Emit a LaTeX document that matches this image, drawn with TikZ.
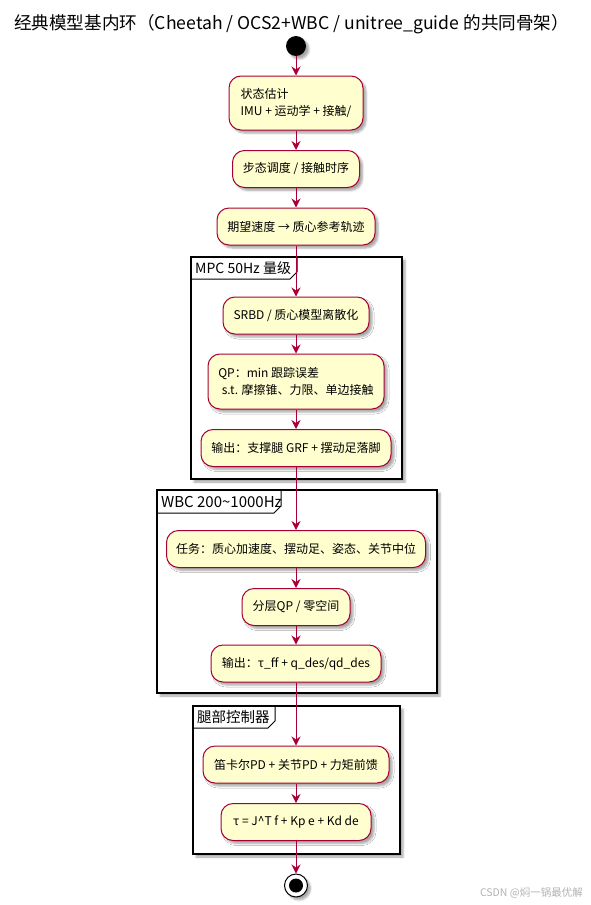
\documentclass[tikz,border=0pt]{standalone}
\usepackage{fontspec}
\setmainfont{Noto Sans CJK SC}
\usetikzlibrary{arrows.meta,shadows.blur}
\definecolor{umlred}{HTML}{A80036}
\definecolor{umlfill}{HTML}{FEFECE}
\begin{document}
\begin{tikzpicture}[x=1pt,y=-1pt,
  shad/.style={blur shadow={shadow xshift=3pt,shadow yshift=-3pt,shadow opacity=35,shadow blur steps=5,shadow blur radius=2pt}},
  act/.style={draw=umlred, fill=umlfill, rounded corners=12pt, line width=1pt,
    minimum height=37pt, inner xsep=8pt, inner ysep=4pt,
    font=\fontsize{12}{17}\selectfont, align=left, shad},
  flow/.style={draw=umlred, line width=1pt, -{Stealth[length=9pt,width=9pt,inset=3pt]}},
  grp/.style={draw=black, line width=1.5pt, fill=white, shad},
  tab/.style={draw=black, line width=1pt},
  grplabel/.style={anchor=west, inner sep=0pt},
]
\useasboundingbox (0,0) rectangle (591,905);

\node[font=\fontsize{17.6}{20}\selectfont] (title) at (291.5,24)
  {经典模型基内环（Cheetah / OCS2+WBC / unitree\_guide 的共同骨架）};

% group frames
\draw[grp] (191,257) rectangle (402,479);
\draw[tab] (191,279) -- (290,279) -- (297,272) -- (297,257);
\node[grplabel, font=\fontsize{14}{15}\selectfont] (mpcl) at (195,268) {MPC 50Hz 量级};

\draw[grp] (157,490) rectangle (437,693);
\draw[tab] (157,513) -- (274,513) -- (281,506) -- (281,490);
\node[grplabel, font=\fontsize{15}{16}\selectfont] (wbcl) at (161,501.5) {WBC 200\textasciitilde1000Hz};

\draw[grp] (193,706) rectangle (400,854);
\draw[tab] (193,728) -- (268,728) -- (275,721) -- (275,706);
\node[grplabel, font=\fontsize{14.5}{16}\selectfont] (legl) at (197,717) {腿部控制器};

% start
\node[circle, fill=black, minimum size=20pt, inner sep=0pt, shad] (start) at (296,46) {};

% activities
\node[act, minimum width=134pt, minimum height=54pt] (s1) at (296,103)
  {状态估计\\IMU + 运动学 + 接触/};
\node[act, minimum width=127pt] (s2) at (296,169) {步态调度 / 接触时序};
\node[act, minimum width=158pt] (s3) at (296,226.5) {期望速度 → 质心参考轨迹};
\node[act, minimum width=146pt] (s4) at (296,315.5) {SRBD / 质心模型离散化};
\node[act, minimum width=176pt, minimum height=55pt] (s5) at (296,381.5)
  {QP：min 跟踪误差\\\hspace{0.3em}s.t. 摩擦锥、力限、单边接触};
\node[act, minimum width=190pt] (s6) at (296,448) {输出：支撑腿 GRF + 摆动足落脚};
\node[act, minimum width=259pt] (s7) at (296,549) {任务：质心加速度、摆动足、姿态、关节中位};
\node[act, minimum width=108pt] (s8) at (296,607) {分层QP / 零空间};
\node[act, minimum width=170pt] (s9) at (296,663.5) {输出：τ\_ff + q\_des/qd\_des};
\node[act, minimum width=186pt] (s10) at (296,764.5) {笛卡尔PD + 关节PD + 力矩前馈};
\node[act, minimum width=150pt] (s11) at (296,822) {τ = J\textasciicircum T f + Kp e + Kd de};

% end
\node[circle, draw=black, line width=1pt, fill=white, minimum size=23pt, inner sep=0pt, shad] (stop) at (296,885.5) {};
\node[circle, fill=black, minimum size=14pt, inner sep=0pt] (stopin) at (stop) {};

% flows
\draw[flow] (start) -- (s1);
\draw[flow] (s1) -- (s2);
\draw[flow] (s2) -- (s3);
\draw[flow] (s3) -- (s4);
\draw[flow] (s4) -- (s5);
\draw[flow] (s5) -- (s6);
\draw[flow] (s6) -- (s7);
\draw[flow] (s7) -- (s8);
\draw[flow] (s8) -- (s9);
\draw[flow] (s9) -- (s10);
\draw[flow] (s10) -- (s11);
\draw[flow] (s11) -- (stop);

% watermark
\node[anchor=east, font=\fontsize{10.5}{12}\selectfont, text=black!30, inner sep=0pt] (wm) at (583,893) {CSDN @焖一锅最优解};
\end{tikzpicture}
\end{document}
